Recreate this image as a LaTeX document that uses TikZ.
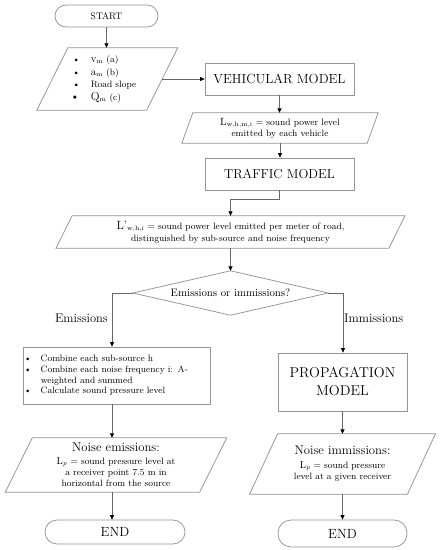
\documentclass[tikz,border=0pt]{standalone}
\usetikzlibrary{arrows.meta,calc}
\newcommand\paragr[2]{\draw[outl] ($(#1.north west)+(#2,0)$) -- ($(#1.north east)+(#2,0)$) -- ($(#1.south east)-(#2,0)$) -- ($(#1.south west)-(#2,0)$) -- cycle;}
\begin{document}
\begin{tikzpicture}[x=1pt,y=-1pt,
  outl/.style={draw=black!42, line width=0.75pt},
  box/.style={outl, rectangle, inner sep=0pt, align=center, text=black},
  pnode/.style={rectangle, inner sep=0pt, align=center, text=black},
  conn/.style={draw=black!60, line width=0.75pt, -{Triangle[length=4.5pt,width=4pt,color=black]}},
  lbl/.style={inner sep=0pt, text=black, font=\fontsize{12.5}{14}\selectfont},
  small/.style={font=\fontsize{9.2}{11}\selectfont}
]
\fill[white] (0,0) rectangle (441,550);
\useasboundingbox (0,0) rectangle (441,550);

% START
\node[box, rounded corners=11pt, minimum width=103pt, minimum height=22pt, font=\fontsize{9.5}{11}\selectfont] (start) at (106.5,16) {START};

% inputs
\node[pnode, minimum width=109.5pt, minimum height=62pt, text width=109.5pt, align=left, font=\fontsize{9.2}{12.7}\selectfont] (p1) at (107.25,79)
 {\noindent\hspace*{20.2pt}\begin{tabular}{@{}l@{\hspace{10.7pt}}l@{}}
 \textbullet & {\fontsize{11}{11}\selectfont v}\textsubscript{m} (a)\\
 \textbullet & {\fontsize{11}{11}\selectfont a}\textsubscript{m} (b)\\
 \textbullet & Road slope\\
 \makebox[4.6pt]{\fontsize{12}{12}\selectfont\textbullet} & {\fontsize{11.5}{11}\selectfont Q}\textsubscript{m} (c)
 \end{tabular}};
\paragr{p1}{15.5}

% vehicular model
\node[box, minimum width=149pt, minimum height=32pt, font=\fontsize{13.2}{15}\selectfont] (vm) at (279.5,79) {VEHICULAR MODEL};

% Lw
\node[pnode, small, minimum width=185pt, minimum height=30pt] (p2) at (280,128)
 {{\fontsize{10.5}{11}\selectfont L}\textsubscript{w,h,m,i} = sound power level\\emitted by each vehicle};
\paragr{p2}{5.5}

% traffic model
\node[box, minimum width=149pt, minimum height=32pt, font=\fontsize{13}{15}\selectfont] (tm) at (279.5,174) {TRAFFIC MODEL};

% L'w
\node[pnode, small, minimum width=332.5pt, minimum height=32pt] (p3) at (230.5,232)
 {{\fontsize{12}{12}\selectfont L’}\textsubscript{w,h,i} = sound power level emitted per meter of road,\\[1pt]distinguished by sub-source and noise frequency};
\paragr{p3}{8}

% decision
\node[pnode, minimum width=195pt, minimum height=44pt, font=\fontsize{10.8}{12}\selectfont] (d) at (230.5,293) {Emissions or immissions?};
\draw[outl] (d.north) -- (d.east) -- (d.south) -- (d.west) -- cycle;

\coordinate (lc) at (112,293);
\coordinate (rc) at (343,293);

\node[lbl, anchor=east] (emlab) at (108,318) {Emissions};
\node[lbl, anchor=west] (imlab) at (344,318) {Immissions};

% emissions box
\node[box, minimum width=187pt, minimum height=57pt, text width=187pt, align=left, font=\fontsize{9.2}{10.8}\selectfont] (eb) at (116.5,375.5)
 {\noindent\hspace*{1.2pt}\begin{tabular}{@{}l@{\hspace{9.2pt}}l@{}}
 \textbullet & Combine each sub-source h\\
 \textbullet & Combine each noise frequency i: A-\\
  & weighted and summed\\
 \textbullet & Calculate sound pressure level
 \end{tabular}};

% propagation model
\node[box, minimum width=129pt, minimum height=58pt, font=\fontsize{14.3}{18}\selectfont] (pm) at (342.5,382) {PROPAGATION\\MODEL};

% noise emissions
\node[pnode, small, minimum width=194pt, minimum height=54pt] (p4) at (116,465)
 {{\fontsize{12.7}{14}\selectfont Noise emissions:}\\[2pt]
  {\fontsize{10}{11}\selectfont L}\textsubscript{\textit{p}} = sound pressure level at\\
  a receiver point 7.5 m in\\
  horizontal from the source};
\paragr{p4}{13.5}

% noise immissions
\node[pnode, small, minimum width=157.5pt, minimum height=60pt] (p5) at (342.5,464)
 {{\fontsize{12.7}{14}\selectfont Noise immissions:}\\[3pt]
  {\fontsize{10}{11}\selectfont L}\textsubscript{\textit{p}} = sound pressure\\
  level at a given receiver};
\paragr{p5}{14}

% ends
\node[box, rounded corners=12pt, minimum width=140pt, minimum height=24pt, font=\fontsize{13.3}{15}\selectfont] (e1) at (115,532) {END};
\node[box, rounded corners=13pt, minimum width=129pt, minimum height=27pt, font=\fontsize{13.3}{15}\selectfont] (e2) at (342.5,533.5) {END};

% connectors
\draw[conn] (start.south) -- (start.south |- p1.north);
\draw[conn] (p1.east) -- (vm.west);
\draw[conn] (vm.south) -- (vm.south |- p2.north);
\draw[conn] (p2.south) -- (p2.south |- tm.north);
\draw[conn] (tm.south) -- ++(0,9) -| (p3.north);
\draw[conn] (p3.south) -- (d.north);
\draw[conn] (d.west) -- (lc) -- (lc |- eb.north);
\draw[conn] (d.east) -- (rc) -- (rc |- pm.north);
\draw[conn] (lc |- eb.south) -- (lc |- p4.north);
\draw[conn] (lc |- p4.south) -- (lc |- e1.north);
\draw[conn] (pm.south) -- (p5.north);
\draw[conn] (p5.south) -- (e2.north);
\end{tikzpicture}
\end{document}
